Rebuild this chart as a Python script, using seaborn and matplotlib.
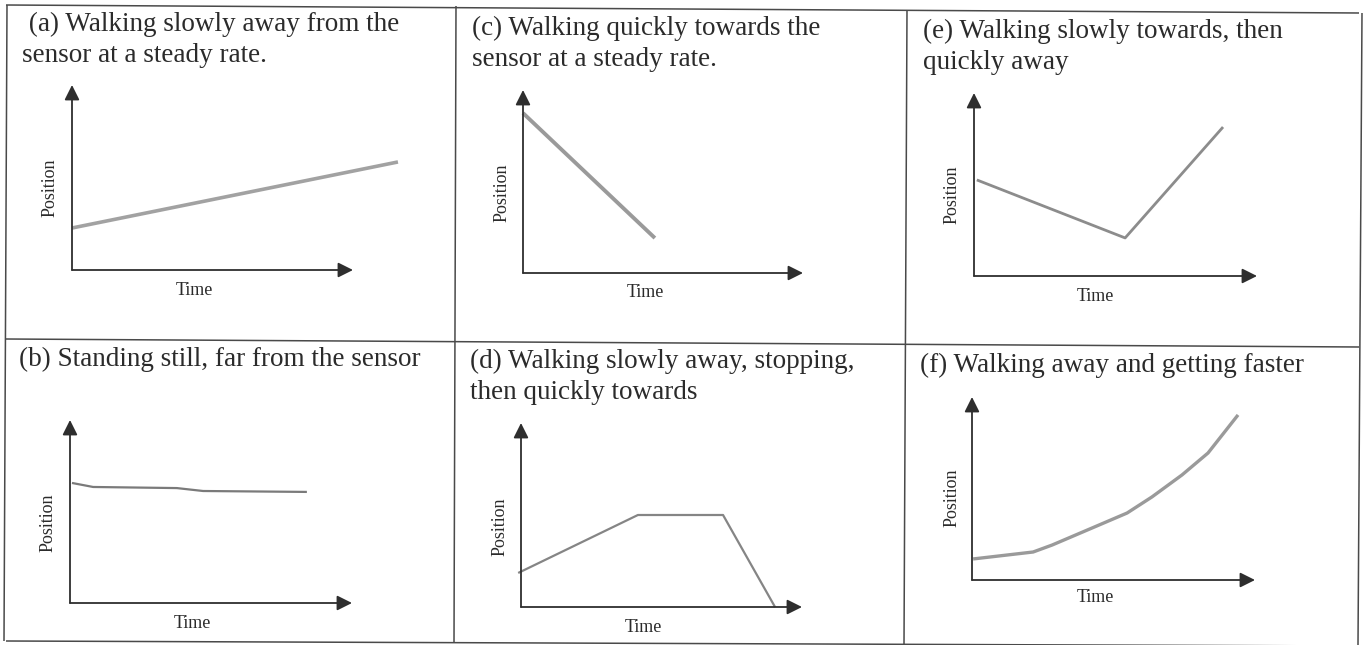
import matplotlib
matplotlib.use("Agg")
import matplotlib.pyplot as plt
import seaborn as sns

# --- curve data: time (x) and position (y) on a 0-10 schematic scale ---
time_a = [0.0, 11.6]
pos_a = [2.27, 5.84]

time_b = [0.07, 0.82, 3.79, 4.72, 8.40]
pos_b = [6.56, 6.34, 6.28, 6.12, 6.07]

time_c = [0.0, 4.71]
pos_c = [8.74, 1.91]

time_d = [-0.1, 4.16, 7.19, 9.04]
pos_d = [1.85, 5.0, 5.0, 0.0]

time_e = [0.1, 5.34, 8.8]
pos_e = [5.25, 2.08, 8.14]

time_f = [0.04, 2.16, 2.83, 4.24, 5.48, 6.36, 7.42, 8.34, 9.4]
pos_f = [1.15, 1.53, 1.91, 2.84, 3.66, 4.54, 5.74, 6.94, 9.02]

titles = [
    " (a) Walking slowly away from the\nsensor at a steady rate.",
    "(b) Standing still, far from the sensor",
    "(c) Walking quickly towards the\nsensor at a steady rate.",
    "(d) Walking slowly away, stopping,\nthen quickly towards",
    "(e) Walking slowly towards, then\nquickly away",
    "(f) Walking away and getting faster",
]
x_label = "Time"
y_label = "Position"

W, H = 1364, 645

sns.set_theme(style="white")
plt.rcParams["font.family"] = ["Liberation Serif", "DejaVu Serif"]

fig = plt.figure(figsize=(W / 100, H / 100), dpi=100)
fig.patch.set_facecolor("white")

# full-figure layer in pixel units for the table grid
bg = fig.add_axes([0, 0, 1, 1])
bg.set_xlim(0, W)
bg.set_ylim(H, 0)
bg.axis("off")
grid_color = "#4a4a4a"
grid_lines = [
    ((6, 1359), (5, 13)),      # top
    ((6, 1359), (339, 347)),   # row divider
    ((6, 1359), (641, 646)),   # bottom
    ((7, 4), (5, 641)),        # left
    ((456, 454), (6, 643)),    # column divider 1
    ((907, 904), (10, 645)),   # column divider 2
    ((1362, 1358), (13, 645)), # right
]
for xs, ys in grid_lines:
    bg.plot(xs, ys, color=grid_color, lw=1.1, solid_capstyle="butt")

# panel layout: axis box in pixels (x0 left, x1 arrow tip, y0 origin, y1 arrow tip)
panels = [
    dict(data=(time_a, pos_a), box=(72, 353, 270, 85), ylab=(50, 188), xlab=(194, 290),
         title=(22, 40), color="#a2a2a2", lw=2.6),
    dict(data=(time_b, pos_b), box=(70, 352, 603, 420), ylab=(48, 523), xlab=(192, 623),
         title=(19, 359), color="#7a7a7a", lw=1.6),
    dict(data=(time_c, pos_c), box=(523, 803, 273, 90), ylab=(502, 193), xlab=(645, 293),
         title=(472, 44), color="#9a9a9a", lw=2.8),
    dict(data=(time_d, pos_d), box=(521, 802, 607, 423), ylab=(500, 527), xlab=(643, 627),
         title=(470, 377), color="#858585", lw=1.6),
    dict(data=(time_e, pos_e), box=(974, 1257, 276, 93), ylab=(952, 195), xlab=(1095, 296),
         title=(923, 47), color="#8c8c8c", lw=2.0),
    dict(data=(time_f, pos_f), box=(972, 1255, 580, 397), ylab=(952, 498), xlab=(1095, 598),
         title=(920, 365), color="#9a9a9a", lw=2.4),
]

axis_color = "#2e2e2e"
text_color = "#2b2b2b"

for p, title in zip(panels, titles):
    x0, x1, y0, y1 = p["box"]
    ax = fig.add_axes([x0 / W, 1 - y0 / H, (x1 - x0) / W, (y0 - y1) / H])
    ax.set_xlim(0, 10)
    ax.set_ylim(0, 10)
    ax.patch.set_alpha(0)
    for s in ax.spines.values():
        s.set_visible(False)
    ax.set_xticks([])
    ax.set_yticks([])

    t, pos = p["data"]
    sns.lineplot(x=t, y=pos, ax=ax, color=p["color"], linewidth=p["lw"],
                 sort=False, estimator=None)
    for ln in ax.lines:
        ln.set_clip_on(False)
        ln.set_solid_capstyle("butt")

    # axes drawn as arrows
    arrow = dict(arrowstyle="-|>,head_length=0.5,head_width=0.25", lw=1.3,
                 color=axis_color, shrinkA=0, shrinkB=0, mutation_scale=18)
    ax.annotate("", xy=(10, 0), xytext=(0, 0), arrowprops=arrow, annotation_clip=False)
    ax.annotate("", xy=(0, 10), xytext=(0, 0), arrowprops=arrow, annotation_clip=False)

    # axis titles
    lx, ly = p["xlab"]
    ax.text((lx - x0) / (x1 - x0), (y0 - ly) / (y0 - y1), x_label,
            transform=ax.transAxes, fontsize=13, color=text_color,
            ha="center", va="center", clip_on=False)
    lx, ly = p["ylab"]
    ax.text((lx - x0) / (x1 - x0), (y0 - ly) / (y0 - y1), y_label,
            transform=ax.transAxes, fontsize=13, color=text_color,
            ha="center", va="center", rotation=90, clip_on=False)

    tx, ty = p["title"]
    fig.text(tx / W, 1 - ty / H, title, fontsize=19.5, color=text_color,
             ha="left", va="center", linespacing=1.3)

fig.savefig("out.png", dpi=100, facecolor="white")
